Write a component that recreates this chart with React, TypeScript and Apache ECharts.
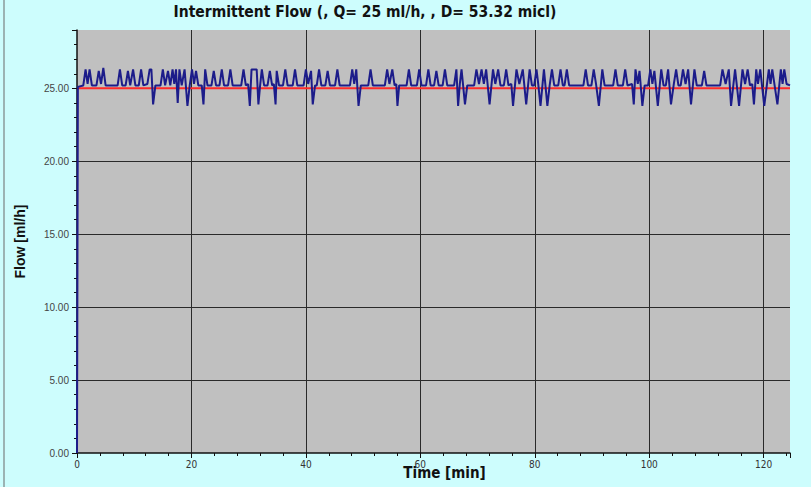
import React, { useEffect, useRef } from "react";
import * as echarts from "echarts";

const titleText = "Intermittent Flow (, Q= 25 ml/h, , D= 53.32 micl)";
const xName = "Time [min]";
const yName = "Flow [ml/h]";

const setPoint: [number, number][] = [
  [0, 25],
  [124.6, 25],
];

const flowPoints: [number, number][] = [
  [0, 0], [0.15, 25.1], [1.1, 25.2], [1.5, 26.3], [1.85, 25.3], [2.2, 26.3], [2.6, 25.2], [3.4, 25.2],
  [3.8, 26.2], [4.2, 25.3], [4.6, 26.4], [5.0, 25.2], [7.1, 25.2], [7.5, 26.3], [7.9, 25.2], [8.5, 25.2],
  [8.9, 26.2], [9.3, 25.2], [9.8, 26.3], [10.2, 25.2], [10.8, 25.2], [11.2, 26.3], [11.6, 25.2], [12.3, 25.3],
  [12.7, 26.3], [13.0, 26.3], [13.3, 23.9], [13.7, 25.2], [14.6, 25.2], [15.0, 26.3], [15.4, 25.2], [15.9, 26.2],
  [16.3, 25.2], [16.7, 26.3], [17.0, 25.3], [17.3, 26.3], [17.6, 24.0], [17.9, 26.3], [18.3, 25.2], [18.8, 26.3],
  [19.3, 23.8], [19.7, 25.2], [20.1, 26.3], [20.45, 25.3], [20.8, 26.2], [21.2, 25.2], [21.8, 25.2], [22.1, 23.9],
  [22.4, 26.3], [22.8, 25.2], [23.5, 25.2], [23.9, 26.2], [24.3, 25.2], [24.9, 25.2], [25.3, 26.3], [25.7, 25.2],
  [26.4, 25.2], [26.8, 26.3], [27.2, 25.2], [28.7, 25.2], [29.1, 26.3], [29.5, 25.2], [29.9, 25.3], [30.2, 23.8],
  [30.5, 26.3], [31.4, 26.3], [31.7, 23.9], [32.0, 25.2], [32.3, 26.3], [32.7, 25.2], [33.3, 25.2], [33.7, 26.2],
  [34.1, 25.2], [34.4, 25.3], [34.7, 23.9], [34.9, 26.2], [35.3, 25.2], [36.0, 25.2], [36.4, 26.3], [36.8, 25.2],
  [37.7, 25.2], [38.1, 26.3], [38.5, 25.2], [39.6, 25.2], [40.0, 26.3], [40.4, 25.3], [40.9, 26.2], [41.2, 23.9],
  [41.6, 25.2], [41.9, 25.2], [42.3, 26.3], [42.7, 25.2], [43.4, 25.2], [43.8, 26.2], [44.2, 25.2], [45.1, 25.2],
  [45.5, 26.3], [45.9, 25.2], [47.7, 25.2], [48.1, 26.3], [48.45, 25.3], [48.8, 26.3], [49.2, 23.8], [49.6, 25.2],
  [50.9, 25.2], [51.3, 26.3], [51.7, 25.2], [53.8, 25.2], [54.2, 26.3], [54.6, 25.3], [55.1, 26.3], [55.5, 25.2],
  [55.8, 25.3], [56.0, 23.8], [56.3, 25.2], [57.6, 25.2], [58.0, 26.3], [58.4, 25.2], [59.4, 25.2], [59.8, 26.3],
  [60.2, 25.2], [61.0, 25.2], [61.4, 26.3], [61.8, 25.2], [62.4, 25.2], [62.8, 26.2], [63.2, 25.2], [63.9, 25.2],
  [64.3, 26.3], [64.7, 25.2], [65.9, 25.2], [66.3, 26.3], [66.6, 23.8], [66.9, 25.3], [67.2, 26.3], [67.8, 23.9],
  [68.2, 25.2], [69.4, 25.2], [69.8, 26.3], [70.25, 25.3], [70.7, 26.3], [71.1, 25.3], [71.5, 26.3], [72.1, 23.9],
  [72.7, 26.3], [73.1, 25.3], [73.6, 26.3], [74.0, 25.2], [74.6, 25.2], [75.0, 26.3], [75.4, 25.2], [75.9, 25.3],
  [76.2, 23.8], [76.8, 26.3], [77.3, 25.3], [77.9, 26.3], [78.5, 23.9], [79.1, 26.3], [79.5, 25.2], [79.9, 25.2],
  [80.3, 26.3], [80.6, 25.3], [81.0, 23.8], [81.6, 26.3], [82.2, 23.8], [82.6, 25.2], [83.0, 26.3], [83.4, 25.2],
  [84.1, 25.2], [84.5, 26.3], [84.9, 25.2], [85.2, 25.2], [85.6, 26.3], [86.0, 25.2], [88.5, 25.2], [88.9, 26.3],
  [89.3, 25.2], [89.9, 25.2], [90.3, 26.3], [90.7, 25.3], [91.2, 23.8], [91.8, 26.3], [92.2, 25.2], [93.7, 25.2],
  [94.1, 26.3], [94.5, 25.2], [95.4, 25.2], [95.8, 26.3], [96.2, 25.2], [97.0, 25.3], [97.3, 23.9], [97.6, 26.3],
  [98.0, 25.3], [98.3, 26.2], [98.8, 23.8], [99.2, 25.2], [99.8, 25.2], [100.2, 26.3], [100.55, 25.3], [100.9, 26.2],
  [101.5, 23.8], [102.1, 26.3], [102.5, 25.2], [102.9, 25.2], [103.3, 26.3], [103.8, 23.9], [104.3, 25.3], [104.7, 26.3],
  [105.1, 25.2], [105.5, 25.2], [105.9, 26.3], [106.35, 25.3], [106.8, 26.3], [107.3, 23.9], [107.9, 26.3], [108.3, 25.2],
  [109.2, 25.2], [109.6, 26.2], [110.0, 25.2], [112.4, 25.2], [112.8, 26.3], [113.35, 25.3], [113.9, 26.3], [114.3, 23.8],
  [115.0, 26.3], [115.7, 23.8], [116.3, 26.3], [116.75, 25.3], [117.2, 26.3], [117.6, 25.2], [118.0, 25.3], [118.3, 23.9],
  [118.7, 26.3], [119.0, 25.3], [119.4, 26.3], [120.1, 23.8], [120.9, 26.3], [121.2, 25.3], [121.5, 26.3], [122.4, 23.9],
  [123.0, 26.3], [123.3, 25.3], [123.6, 26.3], [124.0, 25.3], [124.6, 25.2],
];

const xMin = 0;
const xMax = 124.6;
const xStep = 20;
const yMin = 0;
const yMax = 29;
const yStep = 5;

export default function App() {
  const ref = useRef<HTMLDivElement>(null);
  useEffect(() => {
    if (!ref.current) return;
    const chart = echarts.init(ref.current, undefined, { renderer: "svg" });
    const narrow = "'Liberation Sans Narrow', 'DejaVu Sans Condensed', Arial, sans-serif";
    chart.setOption({
      animation: false,
      backgroundColor: "#cdfdfd",
      title: {
        text: titleText,
        left: 360,
        textAlign: "center",
        top: -1,
        textStyle: { fontFamily: narrow, fontWeight: "bold", fontSize: 15.5, color: "#111" },
      },
      graphic: [
        { type: "line", shape: { x1: 4, y1: 0, x2: 4, y2: 487 }, style: { stroke: "#8a9a9a", lineWidth: 1.5 } },
      ],
      grid: {
        left: 77,
        right: 21,
        top: 30,
        bottom: 34,
        show: true,
        backgroundColor: "#c0c0c0",
        borderWidth: 0,
        outerBoundsMode: "none",
        containLabel: false,
      },
      xAxis: {
        type: "value",
        min: xMin,
        max: xMax,
        interval: xStep,
        name: xName,
        nameLocation: "middle",
        nameGap: 12,
        nameMoveOverlap: false,
        nameTextStyle: {
          fontFamily: narrow,
          fontWeight: "bold",
          fontSize: 15,
          color: "#111",
          padding: [0, 0, 0, 22],
        },
        axisLine: { show: true, lineStyle: { color: "#111", width: 1.5 } },
        axisTick: { show: true, length: 5, lineStyle: { color: "#111" } },
        minorTick: { show: true, splitNumber: 5, length: 3, lineStyle: { color: "#111" } },
        axisLabel: { showMaxLabel: false, fontFamily: narrow, fontSize: 10, color: "#333", margin: 6 },
        splitLine: { show: true, showMinLine: false, showMaxLine: false, lineStyle: { color: "#2a2a2a", width: 1 } },
      },
      yAxis: {
        type: "value",
        min: yMin,
        max: yMax,
        interval: yStep,
        name: yName,
        nameLocation: "middle",
        nameGap: 50,
        nameMoveOverlap: false,
        nameTextStyle: { fontFamily: "Arial, 'Liberation Sans', sans-serif", fontWeight: "bold", fontSize: 14, color: "#111" },
        axisLine: { show: true, lineStyle: { color: "#111", width: 1.5 } },
        axisTick: { show: true, length: 5, lineStyle: { color: "#111" } },
        minorTick: { show: true, splitNumber: 5, length: 3, lineStyle: { color: "#111" } },
        axisLabel: {
          showMaxLabel: false,
          fontFamily: "Arial, 'Liberation Sans', sans-serif",
          fontSize: 10,
          color: "#444",
          margin: 8,
          formatter: (v: number) => v.toFixed(2),
        },
        splitLine: { show: true, showMinLine: false, showMaxLine: false, lineStyle: { color: "#2a2a2a", width: 1 } },
      },
      series: [
        {
          type: "line",
          data: setPoint,
          symbol: "none",
          lineStyle: { color: "#ff2a2a", width: 2 },
          z: 2,
        },
        {
          type: "line",
          data: flowPoints,
          symbol: "none",
          lineStyle: { color: "#1c1c8a", width: 2 },
          z: 3,
        },
      ],
    });
    return () => chart.dispose();
  }, []);
  return <div ref={ref} style={{ position: "fixed", left: 0, top: 0, width: 811, height: 487 }} />;
}
